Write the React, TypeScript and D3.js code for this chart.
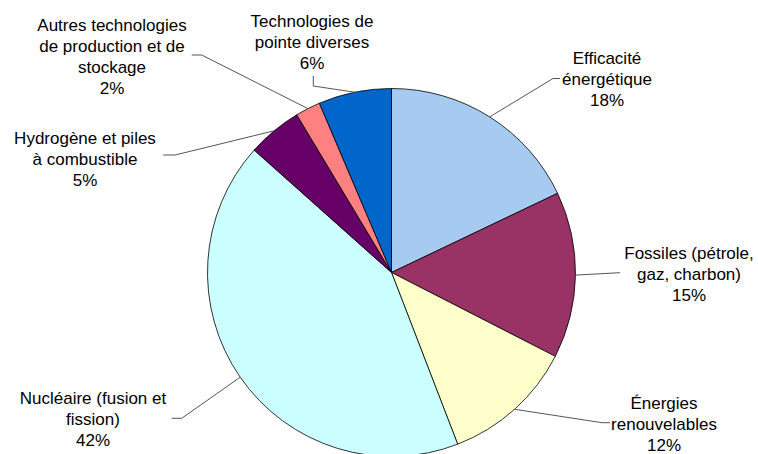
import React from "react";
import * as d3 from "d3";

const categories = [
  "Efficacité énergétique",
  "Fossiles (pétrole, gaz, charbon)",
  "Énergies renouvelables",
  "Nucléaire (fusion et fission)",
  "Hydrogène et piles à combustible",
  "Autres technologies de production et de stockage",
  "Technologies de pointe diverses",
];
const values = [17.9, 14.6, 11.6, 42.4, 4.8, 2.2, 6.4];
const colors = ["#A6CAF0", "#993366", "#FFFFCC", "#CCFFFF", "#660066", "#FF8080", "#0066CC"];
const labelLines = [
  ["Efficacité", "énergétique"],
  ["Fossiles (pétrole,", "gaz, charbon)"],
  ["Énergies", "renouvelables"],
  ["Nucléaire (fusion et", "fission)"],
  ["Hydrogène et piles", "à combustible"],
  ["Autres technologies", "de production et de", "stockage"],
  ["Technologies de", "pointe diverses"],
];

// layout: label anchor (text center x, first baseline y) and leader line elbow points
const layout = [
  { x: 607, y: 64, elbow: [[553, 78.5], [560, 78.5]] },
  { x: 689, y: 259, elbow: [[620, 272.7]] },
  { x: 664, y: 409, elbow: [[602, 422.7], [610, 422.7]] },
  { x: 93, y: 404, elbow: [[181.7, 418.3], [171.7, 418.3]] },
  { x: 85, y: 143.5, elbow: [[175, 155], [163.3, 155]] },
  { x: 112, y: 31, elbow: [[201.7, 55], [191.7, 55]] },
  { x: 312, y: 26.7, elbow: [[313.3, 86], [313.3, 76]] },
];

const W = 758;
const H = 454;
const cx = 391.5;
const cy = 272.5;
const R = 184;

export default function App() {
  const total = d3.sum(values);
  const pie = d3
    .pie<number>()
    .sort(null)
    .value((d) => d)
    .startAngle(0)
    .endAngle(2 * Math.PI);
  const arcs = pie(values);
  const arc = d3.arc<d3.PieArcDatum<number>>().innerRadius(0).outerRadius(R);
  const line = d3.line();

  return (
    <svg
      width={W}
      height={H}
      style={{ position: "absolute", left: 0, top: 0, background: "#fff" }}
      fontFamily="'Liberation Sans', Arial, sans-serif"
      fontSize={17}
    >
      <g transform={`translate(${cx},${cy})`}>
        {arcs.map((a, i) => (
          <path key={categories[i]} d={arc(a) || ""} fill={colors[i]} stroke="#000" strokeWidth={0.8} />
        ))}
      </g>
      {arcs.map((a, i) => {
        const mid = (a.startAngle + a.endAngle) / 2;
        const p0: [number, number] = [cx + R * Math.sin(mid), cy - R * Math.cos(mid)];
        const pts = [p0, ...(layout[i].elbow as [number, number][])];
        return <path key={"l" + i} d={line(pts) || ""} fill="none" stroke="#555" strokeWidth={1} />;
      })}
      {labelLines.map((lines, i) => {
        const all = [...lines, `${Math.round((values[i] / total) * 100)}%`];
        return (
          <text key={"t" + i} textAnchor="middle" fill="#000">
            {all.map((s, j) => (
              <tspan key={j} x={layout[i].x} y={layout[i].y + j * 21}>
                {s}
              </tspan>
            ))}
          </text>
        );
      })}
    </svg>
  );
}
